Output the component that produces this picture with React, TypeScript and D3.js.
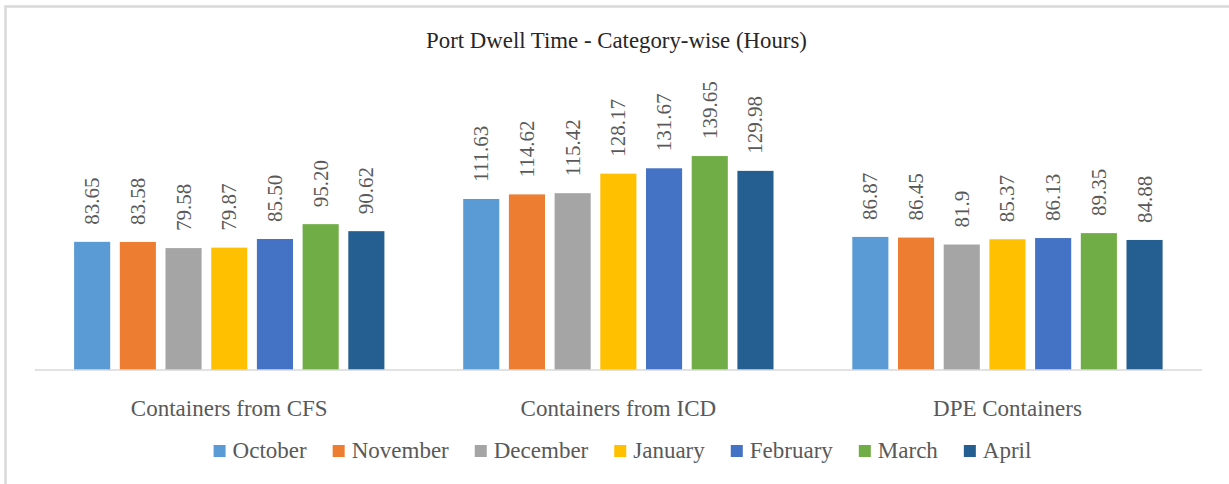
import React, { useEffect, useRef } from "react";
import * as d3 from "d3";

const categories = ["Containers from CFS", "Containers from ICD", "DPE Containers"];
const months = ["October", "November", "December", "January", "February", "March", "April"];
const colors = ["#5B9BD5", "#ED7D31", "#A5A5A5", "#FFC000", "#4472C4", "#70AD47", "#255E91"];

const cfsValues = [83.65, 83.58, 79.58, 79.87, 85.5, 95.2, 90.62];
const icdValues = [111.63, 114.62, 115.42, 128.17, 131.67, 139.65, 129.98];
const dpeValues = [86.87, 86.45, 81.9, 85.37, 86.13, 89.35, 84.88];

const cfsLabels = ["83.65", "83.58", "79.58", "79.87", "85.50", "95.20", "90.62"];
const icdLabels = ["111.63", "114.62", "115.42", "128.17", "131.67", "139.65", "129.98"];
const dpeLabels = ["86.87", "86.45", "81.9", "85.37", "86.13", "89.35", "84.88"];

const title = "Port Dwell Time - Category-wise (Hours)";

const W = 1229;
const H = 484;
const FONT = "Liberation Serif, DejaVu Serif, Times New Roman, serif";

export default function App() {
  const ref = useRef<SVGSVGElement | null>(null);

  useEffect(() => {
    const svg = d3.select(ref.current);
    svg.selectAll("*").remove();

    const seriesValues = [cfsValues, icdValues, dpeValues];
    const seriesLabels = [cfsLabels, icdLabels, dpeLabels];

    svg.append("rect")
      .attr("x", 5.5).attr("y", 6.5)
      .attr("width", W + 20).attr("height", H + 20)
      .attr("fill", "#fff")
      .attr("stroke", "#d9d9d9").attr("stroke-width", 2.5);

    const baseY = 370;
    const pxPerUnit = 1.532;
    const y = d3.scaleLinear().domain([0, 160]).range([baseY, baseY - 160 * pxPerUnit]);
    const x0 = d3.scaleBand<string>().domain(categories).range([34.7, 1202]).paddingInner(0).paddingOuter(0);
    const x1 = d3.scaleBand<string>().domain(months).range([0, x0.bandwidth()]).paddingInner(0.21).paddingOuter(0.862);

    const fitText = (sel: any, target: number) => {
      const node = sel.node() as SVGTextElement;
      const w = node.getComputedTextLength();
      const fs = parseFloat(sel.attr("font-size"));
      if (w > 0) sel.attr("font-size", Math.min(fs * 1.25, Math.max(fs * 0.75, fs * target / w)));
    };

    const t0 = svg.append("text")
      .attr("x", 616.5).attr("y", 48)
      .attr("text-anchor", "middle")
      .attr("font-family", FONT).attr("font-size", 22.8)
      .attr("fill", "#262626")
      .text(title);
    fitText(t0, 381);

    categories.forEach((cat, ci) => {
      const g = svg.append("g").attr("transform", `translate(${x0(cat)},0)`);
      months.forEach((m, mi) => {
        const v = seriesValues[ci][mi];
        const bx = x1(m)!;
        g.append("rect")
          .attr("x", bx).attr("y", y(v))
          .attr("width", x1.bandwidth()).attr("height", baseY - y(v))
          .attr("fill", colors[mi]);
        const cx = bx + x1.bandwidth() / 2 + 7;
        const ty = y(v) - 17;
        g.append("text")
          .attr("transform", `translate(${cx},${ty}) rotate(-90)`)
          .attr("font-family", FONT).attr("font-size", 21)
          .attr("fill", "#595959")
          .text(seriesLabels[ci][mi]);
      });
    });

    svg.append("line")
      .attr("x1", 34.7).attr("x2", 1202)
      .attr("y1", baseY).attr("y2", baseY)
      .attr("stroke", "#d9d9d9").attr("stroke-width", 1.5);

    categories.forEach((cat) => {
      svg.append("text")
        .attr("x", x0(cat)! + x0.bandwidth() / 2).attr("y", 416)
        .attr("text-anchor", "middle")
        .attr("font-family", FONT).attr("font-size", 23)
        .attr("fill", "#595959")
        .text(cat);
    });

    const lg = svg.append("g");
    const items: { g: any; w: number }[] = [];
    months.forEach((m, mi) => {
      const ig = lg.append("g");
      ig.append("rect").attr("x", 0).attr("y", 445).attr("width", 12).attr("height", 12).attr("fill", colors[mi]);
      const t = ig.append("text")
        .attr("x", 19).attr("y", 458)
        .attr("font-family", FONT).attr("font-size", 23)
        .attr("fill", "#595959")
        .text(m);
      const tw = (t.node() as SVGTextElement).getComputedTextLength();
      items.push({ g: ig, w: 19 + tw });
    });
    const gapItems = 26;
    const total = d3.sum(items, (d) => d.w) + gapItems * (items.length - 1);
    let cur = 622.5 - total / 2;
    items.forEach((it) => {
      it.g.attr("transform", `translate(${cur},0)`);
      cur += it.w + gapItems;
    });
  }, []);

  return (
    <svg
      ref={ref}
      width={W}
      height={H}
      style={{ position: "absolute", left: 0, top: 0, background: "#fff" }}
    />
  );
}
